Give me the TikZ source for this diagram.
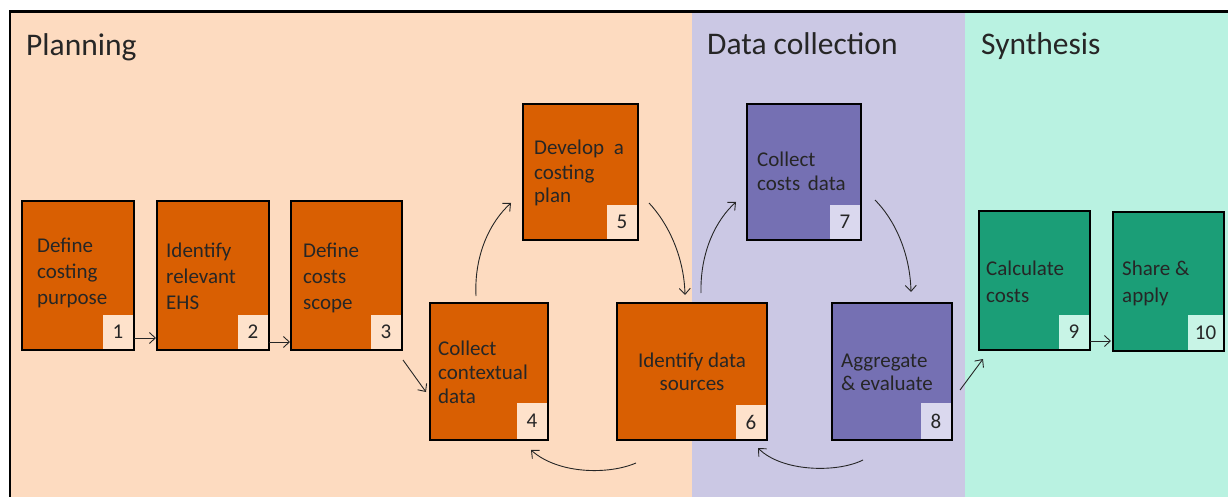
\documentclass[tikz,border=0pt]{standalone}
\usepackage{fontspec}
\setmainfont{Carlito}
\usetikzlibrary{arrows.meta}

\definecolor{planbg}{HTML}{FDDBC0}
\definecolor{databg}{HTML}{CBC8E4}
\definecolor{synbg}{HTML}{B9F2E1}
\definecolor{orangebox}{HTML}{D95F02}
\definecolor{purplebox}{HTML}{7570B3}
\definecolor{greenbox}{HTML}{1B9E77}
\definecolor{orangetag}{HTML}{FEE2CB}
\definecolor{purpletag}{HTML}{DAD8EE}
\definecolor{greentag}{HTML}{C8F4E6}
\definecolor{ink}{HTML}{262626}

\tikzset{
  stepbox/.style={draw=black, line width=2pt, anchor=north west, inner sep=0pt, outer sep=0pt},
  tag/.style={anchor=south east, inner sep=0pt, outer sep=0pt, minimum width=30pt, minimum height=34pt,
    font=\fontsize{21}{25}\selectfont, text=ink},
  % labels are placed by the baseline of their last line
  boxtext/.style={anchor=base west, align=left, inner sep=0pt, font=\fontsize{21}{#1}\selectfont, text=black!85},
  boxtext/.default=25,
  phase/.style={anchor=base west, inner sep=0pt, font=\fontsize{31.5}{36}\selectfont, text=ink},
  flow/.style={draw=ink, line width=0.9pt, -{Straight Barb[length=6pt,width=11pt]}},
}

\begin{document}
\begin{tikzpicture}[x=1pt,y=-1pt]
\useasboundingbox (0,0) rectangle (1228,497);

% phase bands and frame
\fill[planbg] (10,11.5) rectangle (692,497);
\fill[databg] (692,11.5) rectangle (965,497);
\fill[synbg] (965,11.5) rectangle (1228,497);
\draw[line width=2.5pt] (10,497) -- (10,11.5) -- (1228,11.5);

\node[phase] (p1) at (26,56) {Planning};
\node[phase] (p2) at (707,55) {Data collection};
\node[phase] (p3) at (981,55) {Synthesis};

% step boxes
\node[stepbox, fill=orangebox, minimum width=112pt, minimum height=149pt] (b1) at (22,201) {};
\node[stepbox, fill=orangebox, minimum width=112pt, minimum height=149pt] (b2) at (157,201) {};
\node[stepbox, fill=orangebox, minimum width=111pt, minimum height=149pt] (b3) at (291,201) {};
\node[stepbox, fill=orangebox, minimum width=118pt, minimum height=137pt] (b4) at (430,303) {};
\node[stepbox, fill=orangebox, minimum width=115pt, minimum height=136pt] (b5) at (523,104) {};
\node[stepbox, fill=orangebox, minimum width=150pt, minimum height=137pt] (b6) at (617,303) {};
\node[stepbox, fill=purplebox, minimum width=114pt, minimum height=136pt] (b7) at (747,104) {};
\node[stepbox, fill=purplebox, minimum width=120pt, minimum height=137pt] (b8) at (832,303) {};
\node[stepbox, fill=greenbox, minimum width=111pt, minimum height=139pt] (b9) at (979,211) {};
\node[stepbox, fill=greenbox, minimum width=111pt, minimum height=139pt] (b10) at (1113,212) {};

% step numbers
\node[tag, fill=orangetag] (n1) at ([shift={(-1,-1)}]b1.south east) {1};
\node[tag, fill=orangetag] (n2) at ([shift={(-1,-1)}]b2.south east) {2};
\node[tag, fill=orangetag] (n3) at ([shift={(-1,-1)}]b3.south east) {3};
\node[tag, fill=orangetag, minimum height=36pt] (n4) at ([shift={(-1,-1)}]b4.south east) {4};
\node[tag, fill=orangetag] (n5) at ([shift={(-1,-1)}]b5.south east) {5};
\node[tag, fill=orangetag] (n6) at ([shift={(-1,-1)}]b6.south east) {6};
\node[tag, fill=purpletag] (n7) at ([shift={(-1,-1)}]b7.south east) {7};
\node[tag, fill=purpletag, minimum height=36pt] (n8) at ([shift={(-1,-1)}]b8.south east) {8};
\node[tag, fill=greentag] (n9) at ([shift={(-1,-1)}]b9.south east) {9};
\node[tag, fill=greentag, minimum width=35pt, minimum height=35pt] (n10) at ([shift={(-1,-1)}]b10.south east) {10};

% redraw box outlines over the number squares
\foreach \b in {b1,b2,b3,b4,b5,b6,b7,b8,b9,b10}
  \draw[line width=2pt] (\b.north west) rectangle (\b.south east);

% step labels
\node[boxtext=26] (t1) at (37,304) {Define\\costing\\purpose};
\node[boxtext=26] (t2) at (166,309) {Identify\\relevant\\EHS};
\node[boxtext=26] (t3) at (303,309) {Define\\costs\\scope};
\node[boxtext=24] (t4) at (438,403) {Collect\\contextual\\data};
\node[boxtext=24] (t5) at (534,203) {Develop\hspace{5pt} a\\costing\\plan};
\node[boxtext=23, anchor=base, align=center] (t6) at (692,390) {Identify data\\sources};
\node[boxtext=24] (t7) at (757,190) {Collect\\costs\hspace{3pt} data};
\node[boxtext=23] (t8) at (841,390) {Aggregate\\\& evaluate};
\node[boxtext=27] (t9) at (986,302) {Calculate\\costs};
\node[boxtext=27] (t10) at (1122,302) {Share \&\\apply};

% connectors
\draw[flow] ([shift={(0,-12)}]b1.south east) -- ([shift={(-1,-12)}]b2.south west);
\draw[flow] ([shift={(0,-8)}]b2.south east) -- ([shift={(-1,-8)}]b3.south west);
\draw[flow] ([shift={(1,10)}]b3.south east) -- ([shift={(-4,20.5)}]b4.west);
\draw[flow] ([shift={(-13,-7)}]b4.north) .. controls +(-2,-41) and +(-21,19) .. ([shift={(-12,31)}]b5.west);
\draw[flow] ([shift={(11,31)}]b5.east) .. controls +(18,19) and +(-1,-40) .. ([shift={(-7,-8)}]b6.north);
\draw[flow] ([shift={(9,-10)}]b6.north) .. controls +(-1,-41) and +(-20,18) .. ([shift={(-11,30)}]b7.west);
\draw[flow] ([shift={(14,28)}]b7.east) .. controls +(19,19) and +(-1,-40) .. ([shift={(19,-11)}]b8.north);
\draw[flow] ([shift={(8,18.5)}]b8.east) -- ([shift={(4,9)}]b9.south west);
\draw[flow] ([shift={(0,-9)}]b9.south east) -- ([shift={(-2,-10)}]b10.south west);
\draw[flow] ([shift={(-29,20)}]b8.south) .. controls +(-26,13) and +(24,24) .. ([shift={(-9,8)}]b6.south east);
\draw[flow] ([shift={(19,23)}]b6.south west) .. controls +(-28,12) and +(27,24) .. ([shift={(-17,10)}]b4.south east);
\end{tikzpicture}
\end{document}
